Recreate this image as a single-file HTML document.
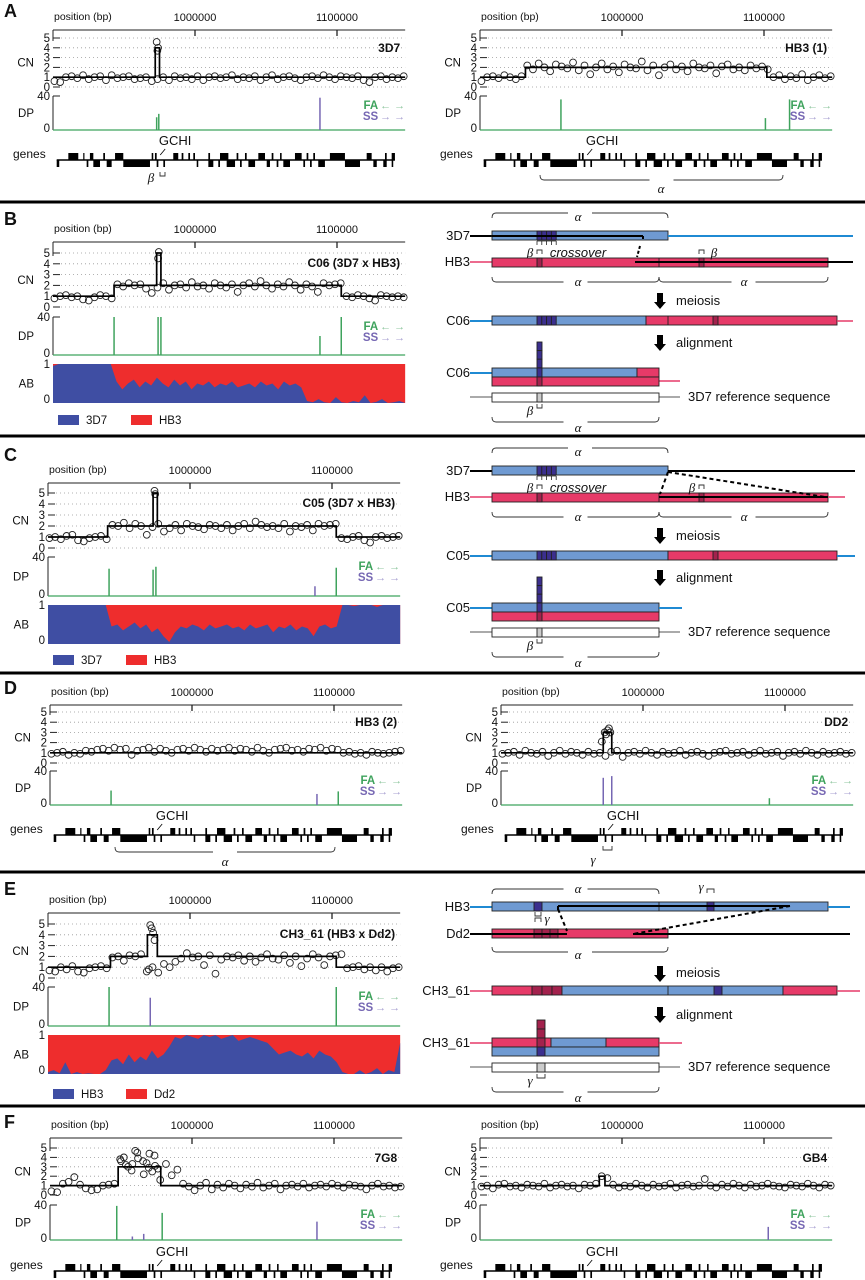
<!DOCTYPE html>
<html><head><meta charset="utf-8"><style>
html,body{margin:0;padding:0;background:#fff;}
svg{display:block;font-family:"Liberation Sans",sans-serif;}
</style></head><body>
<svg id="fig" width="865" height="1280" viewBox="0 0 865 1280" xmlns="http://www.w3.org/2000/svg">
<g id="diagrams"></g>
</svg>
<script>
// ---------- DATA ----------
const genesPlus = [[10.8,17.8],[21.3,22],[26,28.4],[35.4,36.6],[43.7,49.5],[69.5,70.6],[71.8,73],[84.7,88.2],[90.6,91.8],[95.3,96.5],[98.8,100],[109.4,110.6],[117.6,123.5],[129.3,130.5],[135.2,136.4],[144.6,149.3],[154,155.2],[159.9,161],[170.4,175.1],[178.6,179.8],[183.3,184.5],[195,205.6],[220.9,224.4],[233.8,235],[238.5,240.8]];
const genesMinus = [[2.6,4.4],[23.7,24.9],[28.4,33.1],[37.8,41.3],[49.5,68.3],[73,74.2],[77.7,78.9],[101.2,102.3],[109.4,112.9],[116.4,117.6],[122.3,128.2],[131.7,132.9],[137.6,142.3],[150.5,152.8],[157.5,158.7],[162.2,166.9],[176.3,177.5],[181,182.2],[186.8,191.5],[205.6,216.2],[225.6,228],[232.6,235],[238.5,239.6]];
const xTickKb = [100,200];
const xTickLabels = ["1000000","1100000"];
const cnTicks = [0,1,2,3,4,5];

const cn3D7 = [0.6,0.5,1.0,1.1,0.9,1.2,0.8,1.0,1.1,0.7,1.2,0.9,1.0,1.1,0.8,0.9,1.0,0.6,0.8,1.0,0.7,1.1,0.9,1.0,0.8,1.1,0.7,1.0,1.1,0.9,1.0,1.2,0.8,1.0,0.9,1.1,0.7,1.0,1.2,0.8,1.0,1.1,0.9,0.7,1.0,1.1,0.9,1.2,1.0,0.8,1.1,1.0,0.9,1.1,0.7,0.5,1.0,1.1,0.8,1.0,0.9,1.1];
const cn3D7Extra = [[73,4.6],[73.5,3.7],[74,4.0]];
const seg3D7 = [[0,72,1],[72,75,4],[75,248,1]];
const dp3D7 = [[73,15,"FA"],[74.5,19,"FA"],[188,38,"SS"]];

const cnHB3a = [0.6,1.0,1.1,0.9,1.2,1.0,0.8,1.1,2.2,1.8,2.4,2.0,1.6,2.3,2.1,1.9,2.5,1.7,2.2,1.3,2.0,2.4,1.8,2.1,1.5,2.3,2.0,1.9,2.6,1.7,2.2,1.2,2.0,2.3,1.8,2.1,1.6,2.4,2.0,1.9,2.2,1.4,2.1,2.3,1.8,2.0,1.7,2.2,1.9,2.1,1.8,1.0,1.2,0.8,1.1,0.9,1.3,0.7,1.0,1.2,0.9,1.1];
const segHB3a = [[0,32,1],[32,202,2],[202,248,1]];
const dpHB3a = [[57,36,"FA"],[201,14,"FA"],[218,36,"FA"]];

const cnC06 = [0.8,1.0,1.1,0.9,1.0,0.7,0.6,0.9,1.1,1.0,0.8,2.1,1.9,2.2,2.0,2.1,1.7,1.3,1.8,2.2,1.6,2.0,2.1,1.8,2.3,1.9,2.0,1.7,2.2,2.0,1.8,2.1,1.4,2.0,2.2,1.9,2.4,2.0,1.7,2.1,1.9,2.3,2.0,1.6,2.1,1.9,1.4,2.2,2.0,2.1,2.2,1.0,0.9,1.1,1.0,0.8,0.6,1.1,1.0,0.9,1.0,0.9];
const cnC06Extra = [[74.5,5.1],[74,4.5]];
const segC06 = [[0,43,1],[43,73,2],[73,76,5],[76,203,2],[203,248,1]];
const dpC06 = [[43,40,"FA"],[74,40,"FA"],[76,40,"FA"],[188,20,"FA"],[203,40,"FA"]];
const abC06 = [0.95,1,1,1,1,1,1,1,1,1,1,0.55,0.35,0.5,0.6,0.4,0.55,0.45,0.65,0.5,0.4,0.6,0.45,0.55,0.35,0.5,0.45,0.55,0.4,0.5,0.45,0.55,0.4,0.45,0.5,0.4,0.55,0.45,0.5,0.35,0.55,0.45,0.5,0.4,0.05,0.02,0.1,0.02,0.0,0.15,0.02,0.0,0.05,0.02,0.2,0.0,0.03,0.1,0.0,0.02,0.05,0.0];

const cnC05 = [0.9,1.0,0.8,1.1,1.2,0.7,0.6,0.9,1.0,1.1,0.8,2.1,2.0,2.3,1.8,2.2,2.0,1.2,1.9,2.2,1.5,1.8,2.1,1.6,2.2,2.0,1.9,1.7,2.1,2.0,1.8,2.1,1.6,2.0,2.2,1.8,2.4,2.1,1.9,2.0,1.8,2.2,1.5,2.0,1.9,2.1,1.6,2.2,2.0,2.1,2.2,0.9,0.8,1.0,1.1,0.7,0.5,1.0,1.1,0.9,1.0,1.1];
const cnC05Extra = [[75,5.2],[75.5,4.9]];
const segC05 = [[0,42,1],[42,74,2],[74,77,5],[77,203,2],[203,248,1]];
const dpC05 = [[43,28,"FA"],[74,27,"FA"],[76,30,"FA"],[188,10,"SS"],[203,29,"FA"]];
const abC05 = [1,1,1,1,1,1,1,1,1,1,1,0.45,0.5,0.35,0.45,0.55,0.4,0.5,0.3,0.4,0.2,0.05,0.3,0.45,0.4,0.5,0.45,0.35,0.5,0.4,0.45,0.5,0.4,0.45,0.35,0.5,0.4,0.45,0.5,0.3,0.45,0.4,0.5,0.35,0.45,0.4,0.2,0.45,0.5,0.4,0.45,1,1,0.97,1,1,1,0.95,1,1,1,1];

const cnHB3b = [0.9,1.0,1.1,0.8,1.0,0.9,1.2,1.1,1.3,1.4,1.2,1.5,1.3,1.4,0.8,1.2,1.3,1.5,1.1,1.4,1.2,1.0,1.3,1.4,1.2,1.5,1.3,1.1,1.4,1.2,1.3,1.5,1.2,1.4,1.3,1.1,1.5,1.2,1.0,1.3,1.4,1.5,1.2,1.3,1.1,1.4,1.3,1.5,1.2,1.4,1.3,1.0,1.1,0.9,1.0,0.8,1.1,1.0,0.9,1.0,1.1,1.2];
const segHB3b = [[0,248,1]];
const dpHB3b = [[43,17,"FA"],[188,13,"SS"],[203,16,"FA"]];

const cnDD2 = [0.9,1.0,1.1,0.8,1.2,1.0,0.9,1.1,0.7,1.0,1.2,0.9,1.1,1.0,0.8,1.1,0.9,1.0,0.7,1.1,1.2,0.6,1.0,1.1,0.9,1.2,1.0,0.8,1.1,0.9,1.0,1.2,0.8,1.0,1.1,0.9,0.7,1.0,1.1,1.2,0.9,1.0,1.1,0.8,1.0,1.2,0.9,1.0,1.1,0.7,1.0,1.1,0.9,1.2,1.0,0.8,1.1,0.9,1.0,1.1,0.9,1.0];
const cnDD2Extra = [[73,3.0],[74,2.8],[75,3.2],[76,3.4],[77,3.0],[71,2.1]];
const segDD2 = [[0,72,1],[72,78,3],[78,248,1]];
const dpDD2 = [[72,32,"SS"],[78,34,"SS"],[189,8,"FA"]];

const cnCH3 = [0.7,0.6,1.0,0.8,1.1,0.6,0.5,0.9,1.0,1.1,0.9,1.9,2.0,1.6,2.1,2.0,2.2,0.6,1.0,0.5,1.3,1.0,1.5,1.8,2.3,1.9,2.0,1.2,2.1,0.4,1.7,2.0,1.9,2.1,1.6,2.0,1.5,1.9,2.2,1.8,1.7,2.1,1.4,2.0,1.1,1.8,2.2,1.9,1.2,2.0,2.1,2.2,0.9,1.0,1.1,0.8,1.0,0.7,1.0,0.6,0.9,1.0];
const cnCH3Extra = [[72,4.9],[73,4.6],[74,4.2],[75,3.5],[71,0.8]];
const segCH3 = [[0,44,1],[44,70,2],[70,77,4],[77,203,2],[203,248,1]];
const dpCH3 = [[43,40,"FA"],[72,29,"SS"],[203,40,"FA"]];
const abCH3 = [0.05,0.1,0.02,0.3,0.0,0.05,0.0,0.02,0.0,0.0,0.1,0.35,0.4,0.25,0.5,0.3,0.45,0.35,0.6,0.4,0.5,0.7,0.95,0.9,1,0.95,0.9,1,0.95,1,0.9,0.95,1,0.85,0.9,0.95,0.9,0.85,0.8,0.65,0.5,0.55,0.6,0.5,0.45,0.55,0.4,0.6,0.5,0.45,0.3,0.05,0.0,0.0,0.1,0.0,0.05,0.15,0.0,0.1,0.05,0.8];

const cn7G8 = [0.4,0.3,1.2,1.4,1.9,1.1,0.7,0.5,0.6,1.0,1.1,1.2,3.8,3.2,2.6,4.5,3.6,2.9,4.2,1.6,3.3,2.1,2.7,1.2,0.9,0.5,1.0,1.3,0.6,1.1,0.8,1.2,1.0,0.7,1.1,0.9,1.3,0.8,1.0,1.2,0.6,1.0,1.1,0.9,1.2,0.8,1.0,1.1,0.9,1.2,1.0,0.8,1.1,1.0,0.9,0.6,1.0,1.2,0.9,1.0,0.8,0.9];
const cn7G8Extra = [[50,3.6],[52,4.0],[55,3.0],[58,3.3],[60,4.7],[62,3.9],[66,2.2],[68,3.4],[70,4.4],[72,2.5],[74,3.1],[76,2.8]];
const seg7G8 = [[0,48,1],[48,78,3],[78,248,1]];
const dp7G8 = [[47,39,"FA"],[58,4,"SS"],[66,7,"SS"],[79,31,"FA"],[188,21,"SS"]];

const cnGB4 = [0.9,1.0,0.7,1.1,1.2,0.9,1.0,0.8,1.1,1.0,0.9,1.2,0.8,1.0,1.1,0.9,1.0,0.7,1.1,1.0,1.2,2.0,1.8,1.1,0.8,1.0,0.9,1.2,1.0,0.8,1.1,0.9,1.0,1.2,0.8,1.0,1.1,0.9,1.0,1.7,1.0,0.8,1.1,0.9,1.2,1.0,0.8,1.1,0.9,1.0,1.2,1.0,0.9,0.8,1.1,1.0,0.9,1.2,1.0,0.8,1.1,1.0];
const segGB4 = [[0,84,1],[84,88,2],[88,248,1]];
const dpGB4 = [[203,15,"SS"]];

// ---------- DRAWING ----------
const NS = "http://www.w3.org/2000/svg";
const svg = document.getElementById("fig");
const PX_PER_KB = 1.42, SPAN = 248;
const C = {blue:"#3f4ea3", red:"#ee2d2d", fa:"#3fa35d", ss:"#7667b3"};
function mk(tag, attrs, parent){
  const e = document.createElementNS(NS, tag);
  for (const k in attrs) e.setAttribute(k, attrs[k]);
  (parent||svg).appendChild(e);
  return e;
}
function txt(s, x, y, size, attrs, parent){
  const t = mk("text", Object.assign({x:x, y:y, "font-size":size, fill:"#111"}, attrs||{}), parent);
  t.textContent = s;
  return t;
}

function panel(cfg){
  const g = mk("g", {});
  
  
  const x0 = cfg.x0, x1 = x0 + SPAN*PX_PER_KB;
  const xs = kb => x0 + kb*PX_PER_KB;
  const yc = v => cfg.cnBot - v*(cfg.cnBot-cfg.cnTop)/5;
  const yd = v => cfg.dpBot - v*(cfg.dpBot-cfg.dpTop)/40;
  txt("position (bp)", x0+1, cfg.axisY-10, 10.5);
  mk("line", {x1:x0, y1:cfg.axisY, x2:x1, y2:cfg.axisY, stroke:"#222", "stroke-width":1}, g);
  mk("line", {x1:x0, y1:cfg.axisY, x2:x0, y2:cfg.cnTop+3, stroke:"#222", "stroke-width":1}, g);
  xTickKb.forEach((kb,i)=>{
    mk("line", {x1:xs(kb), y1:cfg.axisY, x2:xs(kb), y2:cfg.axisY+6, stroke:"#222", "stroke-width":1.3}, g);
    txt(xTickLabels[i], xs(kb), cfg.axisY-9, 11, {"text-anchor":"middle"}, g);
  });
  cnTicks.forEach(v=>{
    mk("line", {x1:x0+8, y1:yc(v), x2:x1, y2:yc(v), stroke:"#999", "stroke-width":0.8, "stroke-dasharray":"1,3"}, g);
    mk("line", {x1:x0, y1:yc(v), x2:x0+7, y2:yc(v), stroke:"#222", "stroke-width":1}, g);
    txt(String(v), x0-3, yc(v)+4, 11.5, {"text-anchor":"end"}, g);
  });
  txt("CN", x0-19, (cfg.cnTop+cfg.cnBot)/2+4, 11.5, {"text-anchor":"end"}, g);
  txt(cfg.title, x1-5, cfg.cnTop+14, 12, {"text-anchor":"end","font-weight":"bold"}, g);
  const n = cfg.cn.length;
  cfg.cn.forEach((v,i)=>{
    const c = mk("circle", {cx:xs(i*SPAN/(n-0.5)+1), cy:yc(v), r:3.4, fill:"none", stroke:"#222", "stroke-width":0.9}, g);
    
    
  });
  (cfg.cnExtra||[]).forEach(p=>{
    const c = mk("circle", {cx:xs(p[0]), cy:yc(p[1]), r:3.4, fill:"none", stroke:"#222", "stroke-width":0.9}, g);
    
    
  });
  let d = "";
  cfg.seg.forEach((s,i)=>{
    d += (i===0 ? "M" : "L") + xs(s[0]) + "," + yc(s[2]) + "L" + xs(s[1]) + "," + yc(s[2]);
  });
  const sl = mk("path", {d:d, fill:"none", stroke:"#000", "stroke-width":1.7}, g);
  
  
  mk("line", {x1:x0, y1:cfg.dpTop, x2:x0, y2:cfg.dpBot, stroke:"#222", "stroke-width":1}, g);
  mk("line", {x1:x0, y1:cfg.dpTop, x2:x0+7, y2:cfg.dpTop, stroke:"#222", "stroke-width":1}, g);
  txt("40", x0-3, cfg.dpTop+4, 11.5, {"text-anchor":"end"}, g);
  txt("0", x0-3, cfg.dpBot+2, 11.5, {"text-anchor":"end"}, g);
  txt("DP", x0-19, (cfg.dpTop+cfg.dpBot)/2+4, 11.5, {"text-anchor":"end"}, g);
  mk("line", {x1:x0, y1:cfg.dpBot, x2:x1, y2:cfg.dpBot, stroke:C.fa, "stroke-width":1.2}, g);
  cfg.dp.forEach(b=>{
    const r = mk("line", {x1:xs(b[0]), y1:cfg.dpBot, x2:xs(b[0]), y2:yd(b[1]), stroke:b[2]==="FA"?C.fa:C.ss, "stroke-width":1.5}, g);
    
    
  });
  if (cfg.showFS){
    txt("FA", x1-27, cfg.dpTop+13, 11.5, {"text-anchor":"end","fill":C.fa,"font-weight":"bold"}, g);
    txt("\u2190 \u2192", x1, cfg.dpTop+13, 11, {"text-anchor":"end","fill":"#8cc59c"}, g);
    txt("SS", x1-27, cfg.dpTop+24, 11.5, {"text-anchor":"end","fill":C.ss,"font-weight":"bold"}, g);
    txt("\u2192 \u2192", x1, cfg.dpTop+24, 11, {"text-anchor":"end","fill":"#a79fd0"}, g);
  }
  if (cfg.ab){
    const ya = v => cfg.abBot - v*(cfg.abBot-cfg.abTop);
    mk("rect", {x:x0, y:cfg.abTop, width:x1-x0, height:cfg.abBot-cfg.abTop, fill:C.red}, g);
    const m = cfg.ab.length;
    let p = "M" + x0 + "," + cfg.abBot;
    cfg.ab.forEach((v,i)=>{ p += "L" + xs(i*SPAN/(m-1)) + "," + ya(v); });
    p += "L" + x1 + "," + cfg.abBot + "Z";
    const a = mk("path", {d:p, fill:C.blue}, g);
    
    
    txt("1", x0-3, cfg.abTop+4, 11.5, {"text-anchor":"end"}, g);
    txt("0", x0-3, cfg.abBot, 11.5, {"text-anchor":"end"}, g);
    txt("AB", x0-19, (cfg.abTop+cfg.abBot)/2+4, 11.5, {"text-anchor":"end"}, g);
    const lg = mk("g", {}, g);
    
    
    mk("rect", {x:x0+5, y:cfg.legY-5, width:21, height:10, fill:C.blue}, lg);
    txt(cfg.legA, x0+33, cfg.legY+4, 11.5, {}, lg);
    mk("rect", {x:x0+78, y:cfg.legY-5, width:21, height:10, fill:C.red}, lg);
    txt(cfg.legB, x0+106, cfg.legY+4, 11.5, {}, lg);
  }
  if (cfg.genesY){
    const gy = cfg.genesY;
    const gg = mk("g", {}, g);
    
    
    txt("genes", x0-40, gy-2, 12, {}, g);
    mk("line", {x1:xs(genesMinus[0][0]), y1:gy, x2:xs(genesPlus[genesPlus.length-1][1]), y2:gy, stroke:"#000", "stroke-width":1.5}, gg);
    genesPlus.forEach(q=>mk("rect", {x:xs(q[0]), y:gy-7, width:Math.max(1.2,(q[1]-q[0])*PX_PER_KB), height:7, fill:"#000"}, gg));
    genesMinus.forEach(q=>mk("rect", {x:xs(q[0]), y:gy, width:Math.max(1.2,(q[1]-q[0])*PX_PER_KB), height:7, fill:"#000"}, gg));
    txt("GCHI", xs(86), gy-15, 13, {"text-anchor":"middle"}, g);
    mk("line", {x1:xs(79), y1:gy-11, x2:xs(75.5), y2:gy-5, stroke:"#000", "stroke-width":0.8}, g);
  }
  return {g, xs};
}

const base = {showFS:true};
function P(o){ return panel(Object.assign({}, base, o)); }

P({name:"panel-a-3d7", x0:53, axisY:30, cnTop:38, cnBot:87, dpTop:96, dpBot:130, genesY:160, title:"3D7", cn:cn3D7, cnExtra:cn3D7Extra, seg:seg3D7, dp:dp3D7});
P({name:"panel-a-hb3-1", x0:480, axisY:30, cnTop:38, cnBot:87, dpTop:96, dpBot:130, genesY:160, title:"HB3 (1)", cn:cnHB3a, seg:segHB3a, dp:dpHB3a});
P({name:"panel-b-c06", x0:53, axisY:242, cnTop:253, cnBot:307, dpTop:317, dpBot:355, abTop:364, abBot:403, legY:420, legA:"3D7", legB:"HB3", title:"C06 (3D7 x HB3)", cn:cnC06, cnExtra:cnC06Extra, seg:segC06, dp:dpC06, ab:abC06});
P({name:"panel-c-c05", x0:48, axisY:483, cnTop:493, cnBot:548, dpTop:557, dpBot:596, abTop:605, abBot:644, legY:660, legA:"3D7", legB:"HB3", title:"C05 (3D7 x HB3)", cn:cnC05, cnExtra:cnC05Extra, seg:segC05, dp:dpC05, ab:abC05});
P({name:"panel-d-hb3-2", x0:50, axisY:705, cnTop:712, cnBot:763, dpTop:771, dpBot:805, genesY:835, title:"HB3 (2)", cn:cnHB3b, seg:segHB3b, dp:dpHB3b});
P({name:"panel-d-dd2", x0:501, axisY:705, cnTop:712, cnBot:763, dpTop:771, dpBot:805, genesY:835, title:"DD2", cn:cnDD2, cnExtra:cnDD2Extra, seg:segDD2, dp:dpDD2});
P({name:"panel-e-ch3-61", x0:48, axisY:913, cnTop:924, cnBot:978, dpTop:987, dpBot:1026, abTop:1035, abBot:1074, legY:1094, legA:"HB3", legB:"Dd2", title:"CH3_61 (HB3 x Dd2)", cn:cnCH3, cnExtra:cnCH3Extra, seg:segCH3, dp:dpCH3, ab:abCH3});
P({name:"panel-f-7g8", x0:50, axisY:1138, cnTop:1148, cnBot:1195, dpTop:1205, dpBot:1240, genesY:1271, title:"7G8", cn:cn7G8, cnExtra:cn7G8Extra, seg:seg7G8, dp:dp7G8});
P({name:"panel-f-gb4", x0:480, axisY:1138, cnTop:1148, cnBot:1195, dpTop:1205, dpBot:1240, genesY:1271, title:"GB4", cn:cnGB4, seg:segGB4, dp:dpGB4});

function bracketDown(x1,x2,y,label,lx,ly,up){
  const h = up ? -5 : 5;
  const mid = (x1+x2)/2;
  mk("path", {d:`M${x1},${y} q0,${h} 4,${h} H${mid-12} M${mid+12},${y+h} H${x2-4} q4,0 4,${-h}`, fill:"none", stroke:"#333", "stroke-width":0.9});
  if (label) txt(label, lx!==undefined?lx:mid, ly!==undefined?ly:y+h+4, 13, {"text-anchor":"middle","font-style":"italic","font-family":"Liberation Serif, serif"});
}
function smallBr(x1,x2,y,dir){
  mk("path", {d:`M${x1},${y} v${4*dir} H${x2} v${-4*dir}`, fill:"none", stroke:"#333", "stroke-width":0.9});
}
function greek(s,x,y){ txt(s,x,y,13,{"text-anchor":"middle","font-style":"italic","font-family":"Liberation Serif, serif"}); }
smallBr(160,165,172,1); greek("\u03b2",151,182);
bracketDown(540,783,175,"\u03b1",661,193);
bracketDown(115,335,847,"\u03b1",225,866);
smallBr(603,612,846,1); greek("\u03b3",593,864);

[202,436,673,872,1106].forEach(y=>{ const l = mk("line",{x1:0,y1:y,x2:865,y2:y,stroke:"#000","stroke-width":3});   });
[["A",17],["B",225],["C",461],["D",694],["E",895],["F",1128]].forEach(a=>txt(a[0],4,a[1],18,{"font-weight":"bold"}));

// ---------- DIAGRAMS ----------
const DB="#6f9ad2", DR="#e63a68", DP_="#3b2f8e", DDR="#a3224d", LB="#1f8ad3", LP="#e63a68";
function rect(x,y,w,h,f){ return mk("rect",{x:x,y:y,width:w,height:h,fill:f,stroke:"#222","stroke-width":0.9}); }
function ln(x1,y1,x2,y2,c,w,dash){ const o={x1:x1,y1:y1,x2:x2,y2:y2,stroke:c,"stroke-width":w||1.5}; if(dash) o["stroke-dasharray"]=dash; return mk("line",o); }
function lab(s,x,y){ txt(s,x,y,13,{"text-anchor":"end"}); }
function blocks(x,y,w,h,n,f){ for(let i=0;i<n;i++) rect(x+i*w,y,w,h,f); }
function comb(x,y,n,w){ ln(x,y,x+n*w,y,"#222",0.8); for(let i=0;i<=n;i++) ln(x+i*w,y,x+i*w,y+4,"#222",0.8); }

function diagramBC(o, name, crossC){
  const dy=o;
  bracketDown(492,668,222+dy-4,"\u03b1",578,222+dy-1,true);
  lab("3D7",470,240+dy);
  ln(470,236+dy,492,236+dy,"#000",2);
  rect(492,231+dy,176,9,DB);
  blocks(537,231+dy,4.8,9,4,DP_);
  if (!crossC){ ln(668,236+dy,853,236+dy,LB,2); ln(492,236+dy,643,236+dy,"#000",2); ln(643,236+dy,643,239+dy,"#000",2); }
  else { ln(668,236+dy,855,236+dy,"#000",2); }
  comb(537,241+dy,4,4.8);
  smallBr(537,542,254+dy,-1); greek("\u03b2",530,257+dy);
  txt("crossover",578,257+dy,13,{"text-anchor":"middle","font-style":"italic"});
  lab("HB3",470,266+dy);
  ln(470,262+dy,492,262+dy,LP,1.5);
  rect(492,258+dy,336,9,DR);
  rect(537,258+dy,5,9,DDR);
  rect(699,258+dy,5,9,DDR);
  ln(659,258+dy,659,267+dy,"#222",0.9);
  smallBr(699,704,254+dy,-1); greek("\u03b2",crossC?692:714,257+dy);
  if (!crossC){ ln(635,262+dy,828,262+dy,"#000",2); ln(828,262+dy,853,262+dy,"#000",2);
    ln(640,246+dy,637,257+dy,"#000",2,"3,2"); }
  else { ln(659,262+dy,828,262+dy,"#000",2); ln(828,262+dy,845,262+dy,LP,1.5);
    ln(668,237+dy,660,259+dy,"#000",2,"4,3"); ln(668,237+dy,825,262+dy,"#000",2,"4,3"); }
  bracketDown(492,659,277+dy,"\u03b1",578,286+dy);
  bracketDown(659,828,277+dy,"\u03b1",744,286+dy);
  mk("path",{d:`M657,${293+dy} h6 v9 h3 l-6,7 l-6,-7 h3 z`,fill:"#000"});
  txt("meiosis",676,305+dy,13);
  lab(name,470,325+dy);
  ln(470,321+dy,492,321+dy,LB,2);
  const split = crossC?668:646;
  rect(492,316+dy,split-492,9,DB);
  rect(split,316+dy,837-split,9,DR);
  blocks(537,316+dy,4.8,9,4,DP_);
  if(!crossC) ln(668,316+dy,668,325+dy,"#222",0.9);
  rect(713,316+dy,5,9,DDR);
  ln(837,321+dy,crossC?855:853,321+dy,crossC?LB:LP,crossC?2:1.5);
  mk("path",{d:`M657,${335+dy} h6 v9 h3 l-6,7 l-6,-7 h3 z`,fill:"#000"});
  txt("alignment",676,347+dy,13);
  lab(name,470,377+dy);
  ln(470,373+dy,492,373+dy,LB,2);
  if(!crossC){ rect(492,368+dy,145,9,DB); rect(637,368+dy,22,9,DR); ln(659,381+dy,680,381+dy,LP,1.5); }
  else { rect(492,368+dy,167,9,DB); ln(659,373+dy,682,373+dy,LB,2); }
  rect(492,377+dy,167,9,DR);
  for(let i=0;i<3;i++) rect(537,342+dy+i*8.6,5,8.6,DP_);
  rect(537,368+dy,5,9,DP_); rect(537,377+dy,5,9,DDR);
  ln(470,397+dy,492,397+dy,"#555",1); ln(659,397+dy,680,397+dy,"#555",1);
  rect(492,393+dy,167,9,"#fff"); rect(537,393+dy,5,9,"#ccc");
  txt("3D7 reference sequence",688,401+dy,13);
  smallBr(537,542,404+dy,1); greek("\u03b2",530,415+dy);
  bracketDown(492,659,417+dy,"\u03b1",578,432+dy);
}
diagramBC(0,"C06",false);
diagramBC(235,"C05",true);

(function(){
  bracketDown(492,659,894,"\u03b1",578,893,true);
  greek("\u03b3",701,891); smallBr(707,714,893,-1);
  lab("HB3",470,911);
  ln(470,907,492,907,LB,2);
  rect(492,902,336,9,DB);
  ln(659,902,659,911,"#222",0.9);
  rect(534,902,8,9,DP_); rect(707,902,7,9,DP_);
  ln(828,907,850,907,LB,2);
  ln(558,906,790,906,"#000",2); ln(558,906,558,910,"#000",2);
  smallBr(535,541,912,1); smallBr(535,541,922,-1); greek("\u03b3",547,923);
  lab("Dd2",470,938);
  ln(470,934,492,934,"#000",2);
  rect(492,929,176,9,DR);
  blocks(534,929,8,9,3,DDR);
  ln(492,934,567,934,"#000",2); ln(633,934,668,934,"#000",2);
  ln(668,934,850,934,"#000",2);
  ln(558,909,567,931,"#000",2,"4,3"); ln(790,906,633,934,"#000",2,"4,3");
  bracketDown(492,668,947,"\u03b1",578,959);
  mk("path",{d:"M657,966 h6 v9 h3 l-6,7 l-6,-7 h3 z",fill:"#000"});
  txt("meiosis",676,977,13);
  lab("CH3_61",470,995);
  ln(470,991,492,991,LP,1.5);
  rect(492,986,40,9,DR); blocks(532,986,10,9,3,DDR);
  rect(562,986,221,9,DB); rect(783,986,54,9,DR);
  ln(668,986,668,995,"#222",0.9); rect(714,986,8,9,DP_);
  ln(837,991,860,991,LP,1.5);
  mk("path",{d:"M657,1007 h6 v9 h3 l-6,7 l-6,-7 h3 z",fill:"#000"});
  txt("alignment",676,1019,13);
  lab("CH3_61",470,1047);
  ln(470,1043,492,1043,LP,1.5);
  rect(492,1038,59,9,DR); rect(551,1038,55,9,DB); rect(606,1038,53,9,DR);
  rect(492,1047,167,9,DB);
  ln(659,1043,682,1043,LP,1.5);
  for(let i=0;i<2;i++) rect(537,1020+i*9,8,9,DDR);
  rect(537,1038,8,9,DDR); rect(537,1047,8,9,DP_);
  ln(470,1067,492,1067,"#555",1); ln(659,1067,680,1067,"#555",1);
  rect(492,1063,167,9,"#fff"); rect(537,1063,8,9,"#ccc");
  txt("3D7 reference sequence",688,1071,13);
  smallBr(537,545,1074,1); greek("\u03b3",530,1085);
  bracketDown(492,659,1087,"\u03b1",578,1102);
})();
</script>
</body></html>
